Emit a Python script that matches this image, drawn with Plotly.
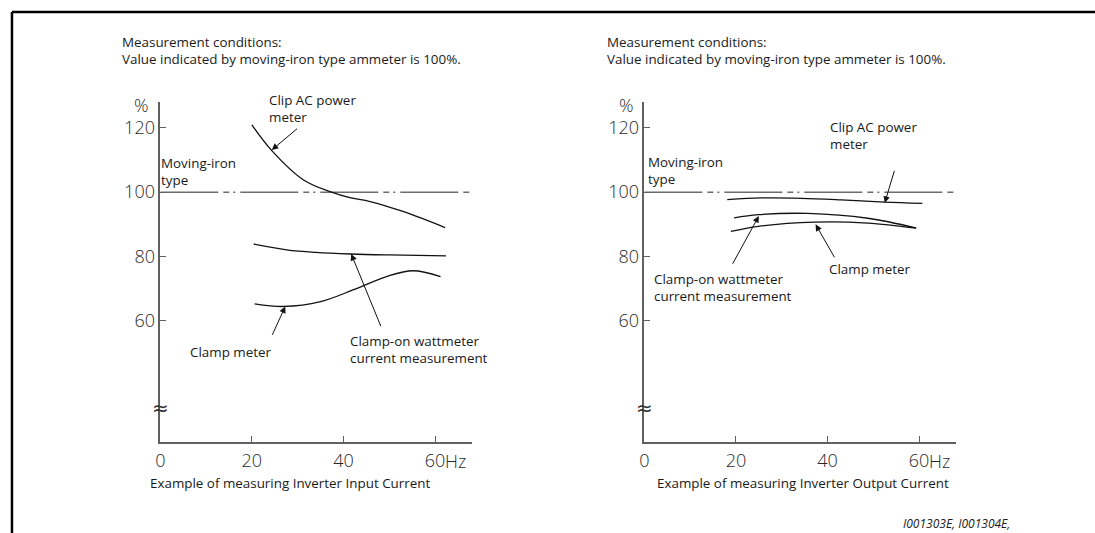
import plotly.graph_objects as go

# ---------------- data ----------------
xtick_vals = [0, 20, 40, 60]
xtick_text = ["0", "20", "40", "60"]
ytick_vals = [60, 80, 100, 120]
ytick_text = ["60", "80", "100", "120"]

ref_x = [0, 68]
ref_y = [100, 100]

# Input current (left)
in_clip_x = [20, 24.3, 31.3, 37.4, 41.4, 45.8, 53, 62.2]
in_clip_y = [120.9, 113, 103.8, 100, 98.3, 97.1, 94, 89]
in_wattm_x = [20.4, 27.6, 34, 41.7, 50, 62.4]
in_wattm_y = [83.9, 82.1, 81.3, 80.8, 80.5, 80.2]
in_clamp_x = [20.6, 27, 35, 42.2, 49.4, 55.2, 61.2]
in_clamp_y = [65.3, 64.5, 66, 69.7, 73.8, 75.6, 73.8]

# Output current (right)
out_clip_x = [18.1, 25.6, 34.3, 43, 52.4, 60.7]
out_clip_y = [97.7, 98.2, 98.1, 97.6, 96.9, 96.5]
out_wattm_x = [19.6, 24.9, 35.7, 48.8, 59.3]
out_wattm_y = [92, 93, 93.4, 91.9, 88.9]
out_clamp_x = [18.9, 24.9, 37.2, 48.8, 59.4]
out_clamp_y = [87.8, 89.4, 90.7, 90.4, 88.8]

TXT = "#1a1a1a"
AX = "#606060"
FONT = "Open Sans"
TICKFONT = dict(family=FONT, size=18, color="#2a2a2a", weight=300)
LBL = dict(family=FONT, size=13.4, color=TXT)
XS = -6  # compensation for annotation inner padding

fig = go.Figure()

def add_panel(xa, ya, curves):
    fig.add_trace(go.Scatter(x=ref_x, y=ref_y, xaxis=xa, yaxis=ya, mode="lines",
                             line=dict(color="#222", width=1, dash="58px,5px,6px,4px,2px,5px"),
                             hoverinfo="skip", showlegend=False))
    for cx, cy in curves:
        fig.add_trace(go.Scatter(x=cx, y=cy, xaxis=xa, yaxis=ya, mode="lines",
                                 line=dict(color="#111", width=1.3, shape="spline", smoothing=1.0),
                                 hoverinfo="skip", showlegend=False))

add_panel("x", "y", [(in_clip_x, in_clip_y), (in_wattm_x, in_wattm_y), (in_clamp_x, in_clamp_y)])
add_panel("x2", "y2", [(out_clip_x, out_clip_y), (out_wattm_x, out_wattm_y), (out_clamp_x, out_clamp_y)])

ydom = [1 - 441.7 / 533, 1 - 101.7 / 533]
common_x = dict(range=[0, 68], showgrid=False, zeroline=False, showline=True, linecolor=AX, linewidth=1.5,
                ticks="inside", ticklen=6, tickcolor=AX, tickwidth=1.2, tickvals=xtick_vals, ticktext=xtick_text,
                tickfont=TICKFONT, ticklabelstandoff=2, fixedrange=True)
common_y = dict(range=[22.5, 128.1], domain=ydom, showgrid=False, zeroline=False, showline=True, linecolor=AX,
                linewidth=1.5, ticks="inside", ticklen=6, tickcolor=AX, tickwidth=1.2, tickvals=ytick_vals,
                ticktext=ytick_text, tickfont=TICKFONT, ticklabelstandoff=0, fixedrange=True)

fig.update_layout(
    width=1095, height=533, margin=dict(l=0, r=0, t=0, b=0),
    paper_bgcolor="white", plot_bgcolor="white", showlegend=False,
    xaxis=dict(domain=[156 / 1095, 468.8 / 1095], anchor="y", **common_x),
    yaxis=dict(anchor="x", **common_y),
    xaxis2=dict(domain=[642.3 / 1095, 955.1 / 1095], anchor="y2", **common_x),
    yaxis2=dict(anchor="x2", **common_y),
)

ann = []
def txt(text, x, y, xref, yref, xanchor="left", yanchor="middle", font=LBL, xshift=None, yshift=0):
    if xshift is None:
        xshift = XS if xanchor == "left" else 0
    ann.append(dict(text=text, x=x, y=y, xref=xref, yref=yref, xanchor=xanchor, yanchor=yanchor,
                    showarrow=False, font=font, align="left", xshift=xshift, yshift=yshift))

def arrow(xr, yr, tip, tail):
    ann.append(dict(text="", x=tip[0], y=tip[1], ax=tail[0], ay=tail[1], xref=xr, yref=yr,
                    axref=xr, ayref=yr, showarrow=True, arrowhead=2, arrowsize=1.3, arrowwidth=1,
                    arrowcolor="#111", standoff=0))

# Header texts
header = "Measurement conditions:<br>Value indicated by moving-iron type ammeter is 100%."
txt(header, 121.7 / 1095, 1 - 50.85 / 533, "paper", "paper")
txt(header, 608.3 / 1095, 1 - 50.85 / 533, "paper", "paper")

# Axis titles
txt("Example of measuring Inverter Input Current", 149.3 / 1095, 1 - 483.3 / 533, "paper", "paper")
txt("Example of measuring Inverter Output Current", 659.3 / 1095, 1 - 483.3 / 533, "paper", "paper")
txt("<i>I001303E, I001304E,</i>", 1012 / 1095, 1 - 523.3 / 533, "paper", "paper", xanchor="right",
    font=dict(family="Liberation Sans Narrow, Open Sans", size=12, color=TXT))

# percent sign and units / axis-break marks
txt("%", 140 / 1095, 1 - 105 / 533, "paper", "paper", xanchor="center", font=TICKFONT, xshift=-3)
txt("%", 626 / 1095, 1 - 105 / 533, "paper", "paper", xanchor="center", font=TICKFONT, xshift=-2)
for xr, yr in (("x", "y"), ("x2", "y2")):
    txt("Hz", 60, 22.5, xr, yr, yanchor="top", font=TICKFONT, xshift=8, yshift=-5)
    txt("≈", 0, 33, xr, yr, xanchor="center", font=dict(family="DejaVu Sans", size=20, color="#333"))

# Left panel labels
txt("Clip AC power<br>meter", 24.6, 125.9, "x", "y")
txt("Moving-iron<br>type", 1.0, 106.5, "x", "y")
txt("Clamp meter", 7.4, 50.5, "x", "y")
txt("Clamp-on wattmeter<br>current measurement", 42.2, 51.1, "x", "y")
arrow("x", "y", (24.35, 113.1), (30.2, 120.1))
arrow("x", "y", (41.7, 80.8), (48.3, 57.9))
arrow("x", "y", (27.3, 64.5), (24.3, 55.2))

# Right panel labels
txt("Clip AC power<br>meter", 41.5, 117.5, "x2", "y2")
txt("Moving-iron<br>type", 1.7, 106.8, "x2", "y2")
txt("Clamp-on wattmeter<br>current measurement", 3.0, 70.3, "x2", "y2")
txt("Clamp meter", 41.3, 76, "x2", "y2")
arrow("x2", "y2", (52.5, 96.7), (54.7, 107.1))
arrow("x2", "y2", (25, 92.6), (19.1, 77.3))
arrow("x2", "y2", (37.4, 90), (41.7, 79.3))

fig.update_layout(annotations=ann)

# Frame lines (top and left)
fig.add_shape(type="line", xref="paper", yref="paper", x0=7 / 1095, y0=1 - 12 / 533, x1=1, y1=1 - 12 / 533,
              line=dict(color="black", width=2.5))
fig.add_shape(type="line", xref="paper", yref="paper", x0=7 / 1095, y0=1 - 12 / 533, x1=7 / 1095, y1=0,
              line=dict(color="black", width=2.5))

fig.write_html("out.html", config={"displayModeBar": False},
               post_script="document.body.style.margin='0';document.body.style.overflow='hidden';")
